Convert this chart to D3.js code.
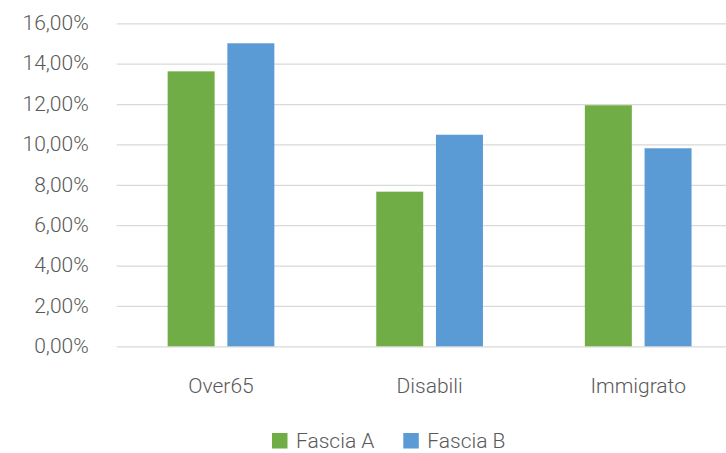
<!DOCTYPE html>
<html>
<head>
<meta charset="utf-8">
<script src="https://cdn.jsdelivr.net/npm/d3@7"></script>
<style>
  body { margin: 0; background: #fff; }
  text { font-family: Roboto, "Noto Sans", sans-serif; fill: #595959; }
</style>
</head>
<body>
<div id="chart"></div>
<script>
// data
const categories = ["Over65", "Disabili", "Immigrato"]
const seriesNames = ["Fascia A", "Fascia B"]
const fasciaA = [13.62, 7.66, 11.94]
const fasciaB = [15.01, 10.48, 9.81]
const yTicks = [0, 2, 4, 6, 8, 10, 12, 14, 16]
const colors = ["#70AD47", "#5B9BD5"]

function drawBarChart() {
  const dimensions = {
    width: 726,
    height: 453,
    margin: { top: 23.3, right: -16.5, bottom: 106.7, left: 116.7 },
  }
  dimensions.boundedWidth = dimensions.width - dimensions.margin.left - dimensions.margin.right
  dimensions.boundedHeight = dimensions.height - dimensions.margin.top - dimensions.margin.bottom

  const wrapper = d3.select("#chart")
    .append("svg")
      .attr("width", dimensions.width)
      .attr("height", dimensions.height)

  const bounds = wrapper.append("g")
    .attr("transform", `translate(${dimensions.margin.left},${dimensions.margin.top})`)

  // scales
  const yScale = d3.scaleLinear()
    .domain([0, 16])
    .range([dimensions.boundedHeight, 0])

  const xScale = d3.scaleBand()
    .domain(categories)
    .range([0, dimensions.boundedWidth])

  const innerScale = d3.scaleBand()
    .domain(seriesNames)
    .range([xScale.bandwidth() / 2 - 53.35, xScale.bandwidth() / 2 + 53.35])
    .paddingInner(0.213)

  const fontSize = 21

  // gridlines + y labels
  const yAxis = bounds.append("g")
    .call(d3.axisLeft(yScale)
      .tickValues(yTicks)
      .tickSize(-dimensions.boundedWidth)
      .tickPadding(28)
      .tickFormat(d => d3.format(".2f")(d).replace(".", ",") + "%"))
  yAxis.select(".domain").remove()
  yAxis.selectAll(".tick line")
    .attr("stroke", "#d9d9d9")
    .attr("stroke-width", 1.3)
  yAxis.selectAll(".tick text")
    .attr("font-size", fontSize)
    .attr("font-weight", 300)
    .attr("dy", "0.3em")
    .attr("fill", "#595959")
    .style("font-family", "Roboto, sans-serif")

  // bars
  const rows = categories.map((c, i) => ({ category: c, values: [fasciaA[i], fasciaB[i]] }))
  const groups = bounds.selectAll(".group")
    .data(rows)
    .join("g")
      .attr("transform", d => `translate(${xScale(d.category)},0)`)

  groups.selectAll("rect")
    .data(d => d.values.map((v, j) => ({ name: seriesNames[j], value: v, color: colors[j] })))
    .join("rect")
      .attr("x", d => innerScale(d.name))
      .attr("width", innerScale.bandwidth())
      .attr("y", d => yScale(d.value))
      .attr("height", d => dimensions.boundedHeight - yScale(d.value))
      .attr("fill", d => d.color)

  // x labels
  const xAxis = bounds.append("g")
    .attr("transform", `translate(0,${dimensions.boundedHeight})`)
    .call(d3.axisBottom(xScale).tickSize(0).tickPadding(0))
  xAxis.select(".domain").remove()
  xAxis.selectAll(".tick text")
    .attr("y", 46.4)
    .attr("dy", 0)
    .attr("font-size", fontSize)
    .attr("font-weight", 300)
    .attr("fill", "#595959")
    .style("font-family", "Roboto, sans-serif")

  // legend (nudged up a little so the text stays inside the frame)
  const legendX = [272, 403.3]
  const legend = wrapper.append("g")
  const items = legend.selectAll("g")
    .data(seriesNames)
    .join("g")
      .attr("transform", (d, i) => `translate(${legendX[i]},433)`)
  items.append("rect")
    .attr("width", 15.5)
    .attr("height", 15.5)
    .attr("fill", (d, i) => colors[i])
  items.append("text")
    .attr("x", 24)
    .attr("y", 14.5)
    .attr("font-size", fontSize)
    .attr("font-weight", 300)
    .text(d => d)
}

drawBarChart()
</script>
</body>
</html>
